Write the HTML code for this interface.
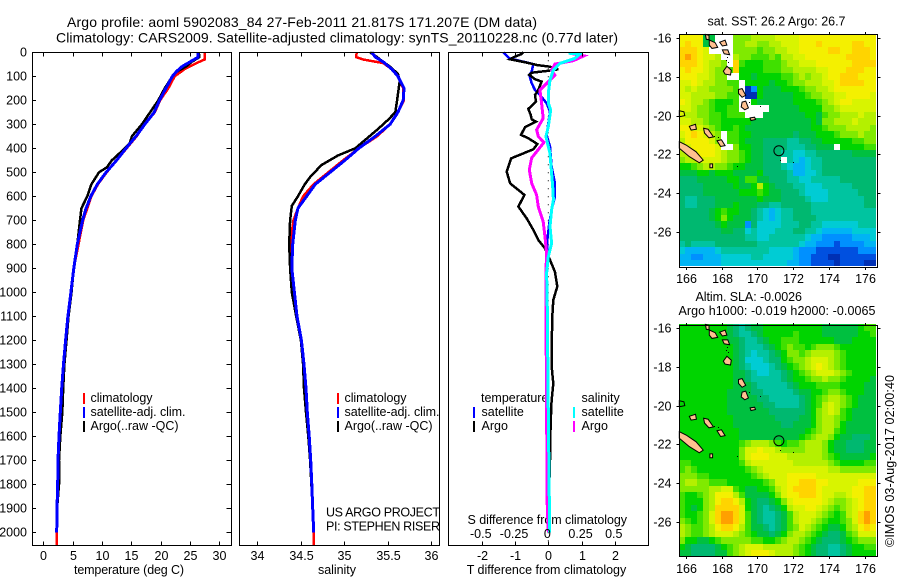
<!DOCTYPE html>
<html><head><meta charset="utf-8"><title>Argo profile</title>
<style>
html,body{margin:0;padding:0;background:#fff;width:900px;height:580px;overflow:hidden}
svg{display:block}
text{font-family:"Liberation Sans",sans-serif;font-size:12.5px;fill:#000}
</style></head>
<body>
<svg id="chart" width="900" height="580" viewBox="0 0 900 580">
<text x="67" y="27" textLength="470" style="font-size:14px">Argo profile: aoml 5902083_84 27-Feb-2011 21.817S 171.207E (DM data)</text>
<text x="56" y="42.5" textLength="562" style="font-size:14px">Climatology: CARS2009. Satellite-adjusted climatology: synTS_20110228.nc (0.77d later)</text>
<text x="74" y="574" textLength="110">temperature (deg C)</text>
<text x="318" y="574" textLength="38">salinity</text>
<text x="466.7" y="574" textLength="159.5">T difference from climatology</text>
<text x="467.5" y="524" textLength="159.5">S difference from climatology</text>
<text x="326" y="516.5" textLength="114">US ARGO PROJECT</text>
<text x="326" y="530.5" textLength="114">PI: STEPHEN RISER</text>
<text x="90.5" y="402" textLength="62">climatology</text>
<text x="90.5" y="416" textLength="95">satellite-adj. clim.</text>
<text x="90.5" y="430" textLength="88">Argo(..raw -QC)</text>
<text x="344.5" y="402" textLength="62">climatology</text>
<text x="344.5" y="416" textLength="95">satellite-adj. clim.</text>
<text x="344.5" y="430" textLength="88">Argo(..raw -QC)</text>
<text x="481" y="402">temperature</text>
<text x="481.5" y="416">satellite</text>
<text x="481.5" y="430">Argo</text>
<text x="581.5" y="402">salinity</text>
<text x="581.5" y="416">satellite</text>
<text x="581.5" y="430">Argo</text>
<text x="707.5" y="25.5" textLength="138">sat. SST: 26.2 Argo: 26.7</text>
<text x="695.5" y="301" textLength="106.5">Altim. SLA: -0.0026</text>
<text x="678.5" y="315" textLength="197">Argo h1000: -0.019 h2000: -0.0065</text>
<text transform="translate(894,547) rotate(-90)" textLength="172">©IMOS 03-Aug-2017 02:00:40</text>
</svg>
<script>
// ---- profile data (depth in m, temperature deg C, salinity PSU, differences) ----
const tempClimDepth=[0,30,45,70,100,150,200,250,300,350,400,450,500,550,600,650,700,750,800,900,1000,1100,1200,1300,1400,1500,1600,1700,1800,1900,2000,2055];
const tempClim=[27.5,27.5,26.1,24.1,22.4,21.3,19.9,19,17.3,15.9,14.2,12.5,10.8,9.3,8.2,7.5,6.8,6.4,6,5.2,4.7,4.2,3.8,3.45,3.13,2.9,2.67,2.5,2.45,2.33,2.28,2.28];
const tempSatDepth=[0,20,40,60,80,100,150,200,250,300,350,400,450,500,550,600,650,700,800,900,1000,1100,1200,1300,1400,1500,1600,1700,1800,1900,2000];
const tempSat=[26.4,26.4,25,23.6,22.7,22,20.9,19.8,18.9,17.3,15.8,14.1,12.5,10.7,9.2,8.1,7.3,6.7,5.8,5.2,4.7,4.2,3.8,3.45,3.13,2.9,2.67,2.5,2.45,2.33,2.28];
const tempArgoDepth=[0,20,40,60,80,100,150,200,250,300,350,380,400,450,480,500,550,600,650,700,800,900,1000,1100,1200,1300,1400,1500,1600,1700,1800,1900,1990];
const tempArgo=[26.5,26.6,25.3,24.3,22.8,22,20.7,19.6,18.2,16.8,15.1,14.7,13.9,11.7,10.8,9.5,8.2,7.5,6.5,6.25,5.8,5.2,4.8,4.3,3.95,3.6,3.4,3.24,2.9,2.67,2.67,2.35,2.3];
const salClimDepth=[0,20,30,45,70,100,150,200,250,300,350,400,450,500,550,600,650,700,750,800,900,1000,1100,1200,1300,1400,1500,1600,1700,1800,1900,2000,2055];
const salClim=[35.146,35.14,35.22,35.45,35.55,35.62,35.68,35.69,35.62,35.53,35.38,35.17,34.99,34.82,34.65,34.53,34.47,34.42,34.4,34.4,34.4,34.42,34.45,34.505,34.54,34.563,34.578,34.6,34.617,34.63,34.64,34.652,34.655];
const salSatDepth=[0,20,40,70,100,150,200,250,300,350,400,450,500,550,600,650,700,800,900,1000,1100,1200,1300,1400,1500,1600,1700,1800,1900,2000];
const salSat=[35.32,35.36,35.45,35.55,35.62,35.69,35.68,35.62,35.53,35.36,35.17,35.01,34.84,34.67,34.57,34.47,34.44,34.41,34.4,34.43,34.46,34.51,34.54,34.563,34.578,34.6,34.617,34.63,34.64,34.652];
const salArgoDepth=[0,20,40,60,90,120,200,250,280,320,360,400,430,470,520,550,600,640,700,800,900,1000,1100,1200,1300,1400,1500,1600,1700,1900];
const salArgo=[35.3,35.38,35.45,35.53,35.62,35.64,35.61,35.59,35.51,35.39,35.26,35.13,34.93,34.74,34.61,34.55,34.47,34.4,34.38,34.37,34.38,34.4,34.45,34.505,34.53,34.54,34.563,34.59,34.61,34.64];
const dTSatDepth=[0,25,39,49,81,94,129,157,178,212,247,296,344,393,476,546,601,657,712,782,837,921,1032,1327,1727,1852,2000];
const dTSat=[-1.35,-1.17,-0.75,-0.45,-0.5,-0.57,-0.5,-0.4,-0.25,-0.05,0.05,0,-0.05,0.05,0.1,0.2,0.2,0.1,0.03,-0.03,-0.03,-0.05,-0.05,-0.05,-0.05,-0.03,0];
const dTArgoDepth=[0,7,18,29,43,53,60,71,78,85,94,112,122,157,178,206,236,261,279,289,312,344,358,382,404,442,497,546,594,643,692,740,782,817,865,914,976,1032,1100,1250,1324,1380,1450,1550,1700,1750,1780,2000];
const dTArgo=[-0.75,-0.8,-1,-1.15,-0.65,-0.35,0.05,0.3,-0.05,-0.5,-0.57,-0.4,-0.2,-0.3,-0.4,-0.37,-0.6,-0.53,-0.5,-0.37,-0.7,-0.82,-0.6,-0.33,-0.45,-1.12,-1.25,-1.15,-0.72,-0.9,-0.65,-0.45,-0.3,-0.1,0.05,0.2,0.27,0.15,0.12,0.1,0.11,0.15,0.1,0.07,0.05,0.05,0.03,0];
const dSArgoDepth=[0,4,15,35,49,74,96,122,157,212,275,323,351,376,440,489,546,594,643,706,769,837,921,1032,1490,1880,2000];
const dSArgo=[0.163,0.163,0.268,0.188,0.05,0.025,0.05,0,-0.063,-0.05,-0.038,-0.088,-0.075,-0.033,-0.125,-0.143,-0.125,-0.088,-0.075,-0.038,-0.025,-0.013,-0.018,-0.018,-0.013,-0.008,0];
const dSSatDepth=[0,4,7,25,46,74,115,171,212,240,310,351,421,504,560,615,657,726,796,852,921,1032,1500,1900,2000];
const dSSat=[0.163,0.163,0.238,0.2,0.088,0.038,0.013,0,0,0.018,0,-0.018,0.013,0.025,0.033,0.038,0.025,0.013,0.025,0,-0.013,-0.008,0,0.008,0.01];
// ---- axis tick data ----
const depthTicks=[0,100,200,300,400,500,600,700,800,900,1000,1100,1200,1300,1400,1500,1600,1700,1800,1900,2000];
const tempTicks=[0,5,10,15,20,25,30];
const salTicks=[34,34.5,35,35.5,36];
const dTTicks=[-2,-1,0,1,2];
const dSTicks=[-0.5,-0.25,0,0.25,0.5];
const lonTicks=[166,168,170,172,174,176];
const latTicks=[-16,-18,-20,-22,-24,-26];
// ---- map colour levels (-1 = no data) ----
const mapPalette=["#0030b4","#0050e0","#0090ff","#00b4f4","#00ccd4","#00c4a0","#00b870","#00c040","#00d400","#40e000","#80ea00","#b4f000","#d8f400","#f4f000","#ffd400","#ffa000"];
const sstRows=[
[13,13,13,13,7,7,-1,-1,-1,10,10,10,11,11,11,11,12,12,12,12,13,13,13,13,13,13,13,13,13,13,13,13,13],
[13,14,13,13,7,7,-1,-1,-1,10,10,11,11,10,10,11,11,12,12,12,13,13,13,14,13,13,13,13,13,14,14,13,13],
[14,14,14,13,12,-1,-1,-1,-1,10,10,10,10,9,10,10,11,11,12,12,13,13,13,13,13,14,14,13,13,14,14,14,13],
[14,15,14,13,12,12,11,-1,-1,11,10,10,9,9,9,10,9,11,11,12,12,13,13,13,13,13,13,13,14,14,14,14,13],
[14,14,14,13,12,11,11,10,-1,14,9,8,8,8,9,9,9,10,11,11,12,12,12,13,13,13,13,13,13,14,14,14,14],
[13,14,13,13,12,11,10,10,9,14,8,8,8,8,9,9,9,10,10,11,11,11,11,12,12,13,13,13,14,14,14,13,13],
[13,13,13,12,12,11,10,10,-1,-1,8,8,7,8,8,8,8,9,9,10,11,10,11,11,12,13,13,14,14,14,13,13,13],
[12,12,13,12,11,11,10,10,9,9,-1,8,8,8,8,7,8,8,9,10,10,11,11,11,12,12,13,14,14,14,14,13,13],
[12,11,12,11,11,10,10,10,10,9,-1,0,2,8,7,7,7,8,8,8,9,10,10,11,11,12,13,13,13,13,13,13,13],
[12,12,11,11,11,11,10,10,9,9,-1,0,0,8,7,7,7,7,7,8,8,9,10,10,11,11,12,12,13,13,13,13,12],
[13,12,11,11,10,9,8,8,8,9,-1,-1,8,7,7,7,7,7,7,8,8,8,8,9,10,11,12,13,13,12,12,12,12],
[12,12,11,10,10,9,8,8,9,9,-1,-1,-1,-1,-1,7,7,7,7,7,8,8,8,8,10,10,11,12,12,12,12,12,12],
[12,11,11,10,10,9,9,8,9,9,9,-1,-1,-1,7,7,7,7,7,7,7,8,8,7,9,10,10,11,11,11,12,11,11],
[12,12,11,11,10,9,9,8,8,8,8,8,7,7,7,7,7,7,7,7,7,7,8,7,10,10,11,11,11,12,11,11,11],
[13,13,12,12,11,10,9,8,8,9,8,7,7,7,7,7,7,7,7,7,7,7,8,8,9,10,10,10,11,11,11,11,10],
[12,13,14,13,12,11,10,-1,9,9,8,8,7,7,7,7,7,7,7,6,7,7,7,8,8,8,9,10,10,10,11,10,10],
[11,13,13,13,13,12,10,-1,9,9,8,7,7,7,6,6,6,6,5,5,6,6,7,7,8,8,8,8,8,9,9,10,10],
[11,12,13,13,13,13,12,-1,-1,10,8,8,7,7,6,6,6,6,5,5,5,6,6,7,7,7,-1,8,8,8,8,9,9],
[11,11,12,13,13,13,12,11,10,10,9,8,7,7,6,6,6,5,5,4,4,5,5,6,6,6,6,6,6,7,7,7,7],
[10,11,11,12,12,12,12,11,10,10,9,8,7,7,6,6,6,-1,5,4,3,4,5,5,6,6,6,6,6,6,6,6,6],
[8,8,9,10,11,11,10,10,9,8,8,7,7,7,6,6,6,5,4,3,3,4,5,5,6,6,6,6,6,6,6,6,6],
[7,7,7,8,8,7,8,8,8,7,7,7,7,8,6,6,6,6,5,3,3,4,4,5,6,6,6,6,6,6,6,6,6],
[6,6,6,7,7,7,7,7,8,8,7,9,9,7,7,6,6,6,5,5,4,4,5,5,5,5,5,6,6,6,6,6,6],
[6,6,6,6,7,7,7,7,7,8,7,7,8,11,8,7,6,6,6,5,5,4,4,4,5,5,5,5,5,6,6,6,6],
[6,6,6,6,7,7,7,7,7,7,8,8,8,9,8,7,7,6,6,6,5,4,4,4,4,5,5,5,5,5,6,6,6],
[6,5,5,6,6,6,7,7,7,7,7,7,7,8,7,7,7,6,6,6,6,5,4,4,4,5,5,5,5,5,5,6,6],
[6,5,5,6,6,6,7,7,7,8,7,7,7,6,6,5,5,6,6,6,6,6,5,5,5,5,5,5,5,5,5,6,6],
[6,6,6,6,6,7,8,9,8,8,7,7,6,5,4,3,4,5,5,6,6,6,5,5,5,5,5,5,5,5,5,5,5],
[6,6,6,6,6,7,8,10,8,7,7,7,6,5,4,3,4,5,5,6,6,6,6,5,5,5,5,5,5,5,5,5,5],
[6,6,6,6,6,6,7,8,7,7,7,2,6,4,4,4,4,5,5,5,6,6,5,5,4,4,4,4,4,4,5,5,5],
[6,6,6,6,6,6,6,7,7,6,6,4,5,4,4,4,5,5,5,6,6,5,5,4,3,3,3,3,3,4,4,4,4],
[6,6,6,6,6,6,6,6,6,6,6,5,5,4,4,5,5,5,5,5,5,4,3,3,2,2,2,2,2,3,3,3,4],
[5,6,5,5,5,5,6,6,6,6,6,6,6,5,5,5,5,5,5,5,4,3,3,2,2,2,1,2,2,2,2,3,3],
[4,3,3,3,3,3,4,5,5,5,5,5,5,5,5,4,4,4,4,3,2,2,2,1,1,1,1,1,1,1,2,2,2],
[3,3,2,2,3,3,3,4,4,4,4,4,5,5,4,4,4,4,4,3,2,2,1,1,1,0,0,1,1,1,1,1,1],
[3,3,3,3,3,3,3,4,4,4,4,4,4,4,4,4,4,4,3,3,2,2,1,1,1,1,0,1,1,1,1,0,0]
];
const slaRows=[
[8,8,8,8,8,8,8,8,7,6,5,6,7,7,8,8,8,8,8,8,8,8,8,8,7,7,7,7,7,7,8,9,9],
[8,8,8,8,8,8,8,8,7,6,5,5,6,7,8,8,8,8,8,9,8,8,8,8,7,7,7,7,7,7,8,8,9],
[8,8,8,8,8,8,8,8,7,7,6,5,5,6,7,8,8,9,9,9,8,8,8,8,8,8,7,7,7,8,8,8,8],
[8,8,8,8,8,8,8,8,8,7,6,5,5,5,6,7,8,9,10,9,9,8,9,10,10,10,9,8,8,8,8,8,8],
[8,8,8,8,8,8,8,8,8,7,6,5,4,5,5,6,7,8,10,10,9,10,11,11,11,11,10,9,8,8,8,8,8],
[8,8,8,8,8,8,8,8,8,7,6,4,4,4,5,6,6,8,9,10,10,11,12,12,12,11,10,9,8,8,8,8,8],
[8,8,8,8,8,8,8,8,8,7,6,5,4,4,4,5,6,7,8,9,10,11,12,13,12,11,10,9,8,8,8,8,8],
[8,8,8,8,8,8,8,8,8,7,7,6,5,4,4,5,5,6,7,8,9,10,11,12,12,12,11,10,9,8,8,8,8],
[8,8,8,8,8,8,8,8,8,7,7,6,5,5,5,5,5,6,7,8,8,9,10,10,11,10,10,9,8,8,8,8,7],
[8,8,8,8,8,8,8,8,8,7,7,7,6,5,5,5,5,5,6,7,8,8,8,9,9,9,9,8,8,8,8,7,7],
[8,8,8,8,8,8,8,8,7,7,7,7,6,6,5,5,5,5,5,6,7,7,8,8,9,10,10,9,8,8,8,7,7],
[8,8,8,8,8,8,8,8,7,7,7,7,7,6,6,5,5,5,5,5,6,7,8,9,10,11,11,10,9,8,7,7,7],
[8,8,8,8,8,8,8,8,7,7,7,7,7,7,6,6,5,5,5,5,6,7,8,9,11,12,11,10,9,8,7,7,7],
[8,8,8,8,8,8,8,8,7,7,7,7,7,7,7,6,6,6,6,6,6,7,8,10,11,12,11,9,8,7,7,7,7],
[8,8,8,8,8,8,8,8,8,7,7,7,7,7,7,7,6,6,6,6,7,7,8,10,11,11,10,9,8,7,7,7,7],
[8,8,8,8,8,8,8,8,8,7,7,7,7,7,7,7,7,6,6,7,7,7,8,10,11,11,10,8,7,7,7,7,7],
[8,8,8,8,8,8,8,8,8,8,7,7,7,7,7,7,7,7,7,7,7,8,9,10,11,11,9,8,7,7,7,7,7],
[8,8,8,8,8,8,8,8,8,8,7,7,7,7,7,7,7,7,7,7,8,9,10,11,11,10,8,7,7,6,6,6,7],
[8,8,8,8,8,8,8,8,8,8,9,10,11,11,11,10,9,8,9,9,10,11,11,11,10,8,7,7,6,6,6,7,7],
[8,8,8,8,8,8,8,8,8,8,10,12,12,13,12,12,11,10,10,10,10,11,11,11,10,8,7,7,6,6,6,7,7],
[8,8,8,8,8,8,8,8,8,8,10,12,13,13,13,12,12,12,11,11,11,11,11,11,10,9,8,7,7,7,7,7,8],
[9,9,8,8,8,8,8,8,8,8,9,11,12,12,12,12,12,12,12,11,11,11,11,11,11,10,9,8,8,8,8,9,9],
[9,10,9,8,8,8,8,8,8,8,8,9,10,11,12,12,12,12,12,12,12,12,12,12,12,11,11,10,10,10,10,10,10],
[10,10,10,9,9,8,8,8,8,8,8,8,9,10,11,12,12,12,13,13,13,13,13,12,12,12,12,12,12,12,12,12,12],
[10,11,11,10,10,9,9,9,8,8,8,8,8,8,9,10,12,12,13,13,14,14,14,13,13,12,12,12,12,12,13,13,13],
[10,10,10,10,10,11,11,12,12,9,8,7,7,8,8,9,11,12,13,14,14,14,14,13,12,12,12,12,12,13,13,14,14],
[9,8,8,9,10,11,13,13,13,11,9,7,7,7,7,8,10,12,13,13,14,14,14,13,12,12,11,11,12,13,13,14,14],
[9,8,8,8,10,11,13,14,14,13,11,8,7,6,6,7,8,10,12,13,13,13,13,13,12,11,10,10,11,12,13,14,14],
[9,8,7,8,10,11,14,14,14,14,12,8,7,6,5,6,7,8,11,12,12,13,13,12,11,10,9,10,11,12,13,14,14],
[9,8,8,9,10,12,14,15,15,14,12,9,7,6,5,5,6,7,9,11,12,12,12,11,10,9,8,9,11,12,14,15,14],
[10,9,8,9,10,12,14,15,15,14,12,9,7,6,5,5,6,7,9,11,12,12,11,10,9,8,8,9,10,12,14,15,14],
[11,10,9,9,10,11,13,14,14,13,11,9,7,7,6,5,6,7,9,10,12,11,10,9,8,7,7,8,10,11,13,14,13],
[11,10,9,9,10,11,12,12,12,11,10,9,8,7,7,6,7,8,10,11,11,10,9,8,7,6,6,7,9,10,12,12,12],
[10,8,8,7,7,8,9,10,10,10,10,10,9,9,8,8,9,10,11,11,10,9,8,7,6,6,6,7,8,9,10,10,10],
[8,7,6,6,6,6,7,8,9,10,11,12,12,12,11,11,11,11,11,10,9,8,7,6,6,5,5,6,7,8,8,9,9],
[7,7,6,6,6,6,7,7,9,10,11,12,13,13,13,12,11,11,11,10,9,8,7,6,6,5,5,6,7,8,8,8,8]
];
// ---- coastline data (lon, lat) ----
const islands=[
[[165.64,-21.35],[166.02,-21.52],[166.58,-21.87],[166.98,-22.3],[166.76,-22.44],[166.2,-22.12],[165.64,-21.69]],
[[167.32,-16.09],[167.65,-16.23],[167.79,-16.47],[167.47,-16.52],[167.32,-16.35]],
[[167.1,-15.8],[167.3,-15.85],[167.3,-16.08],[167.15,-16.05]],
[[167.9,-16.2],[168.2,-16.1],[168.3,-16.35],[168.05,-16.4]],
[[168.05,-16.6],[168.35,-16.6],[168.45,-16.85],[168.15,-16.8]],
[[168.1,-17.7],[168.3,-17.45],[168.55,-17.65],[168.5,-17.9],[168.2,-17.85]],
[[168.95,-18.65],[169.15,-18.6],[169.35,-18.95],[169.15,-19.05],[168.95,-18.85]],
[[169.15,-19.3],[169.35,-19.25],[169.5,-19.6],[169.3,-19.7],[169.1,-19.55]],
[[169.6,-20.12],[169.85,-20.08],[169.9,-20.2],[169.65,-20.25]],
[[166.2,-20.55],[166.55,-20.45],[166.6,-20.7],[166.3,-20.75]],
[[167,-20.65],[167.25,-20.7],[167.55,-21.1],[167.3,-21.15],[167.05,-20.9]],
[[167.75,-21.3],[168,-21.25],[168.2,-21.55],[167.95,-21.6]],
[[167.35,-22.5],[167.5,-22.5],[167.5,-22.7],[167.35,-22.7]]
];
const reefOutline=[[165.64,-19.75],[165.9,-19.8],[165.95,-20],[165.7,-20.05],[165.64,-20]];
const specks=[[168.3,-16.95],[168.25,-17.1],[168.35,-17.25],[169.52,-19.3],[170.15,-19.5],[171.28,-22.3],[168.87,-22.6],[172,-22.4],[167.6,-21.05],[167.8,-21.1]];
const floatPosition=[171.207,-21.817];

// ---- drawing ----
const svg=document.getElementById('chart');
const NS='http://www.w3.org/2000/svg';
function make(tag,attrs){const el=document.createElementNS(NS,tag);for(const k in attrs)el.setAttribute(k,attrs[k]);svg.appendChild(el);return el;}
const yDepth=d=>52.3+d*0.24;
const xTemp=v=>43.3+v*5.867;
const xSal=v=>257+(v-34)*87;
const xDT=v=>548.3+v*33.25;
const xDS=v=>548.3+v*133;
const xLon=v=>685.7+(v-166)*17.9;
const yLat1=v=>38.3+(-16-v)*19.33;
const yLat2=v=>328.3+(-16-v)*19.33;
const pts=(dep,val,fx)=>val.map((v,i)=>fx(v).toFixed(1)+','+yDepth(dep[i]).toFixed(1)).join(' ');
function frame(x0,y0,x1,y1,name){
  const r=make('rect',{x:x0,y:y0,width:x1-x0,height:y1-y0,fill:'none',stroke:'#000','stroke-width':1,'shape-rendering':'crispEdges'});
  
  
}
function tick(x1,y1,x2,y2,name){
  const l=make('line',{x1,y1,x2,y2,stroke:'#000','stroke-width':1,'shape-rendering':'crispEdges'});
  
  
}
function label(x,y,str,anchor,name){
  const t=make('text',{x,y,'text-anchor':anchor});
  t.textContent=str;
  
  
}
function line(dep,val,fx,color,w,name){
  const p=make('polyline',{points:pts(dep,val,fx),fill:'none',stroke:color,'stroke-width':w,'shape-rendering':'crispEdges'});
  
  
}
const P=[[32.5,231.5],[239.5,439.5],[448.5,648.5]];
const TOP=52.5,BOT=545.5;

line(tempClimDepth,tempClim,xTemp,'#f00',2.5,'temperature-climatology-line');
line(tempArgoDepth,tempArgo,xTemp,'#000',2.5,'temperature-argo-line');
line(tempSatDepth,tempSat,xTemp,'#00f',3,'temperature-satellite-line');
line(salClimDepth,salClim,xSal,'#f00',2.5,'salinity-climatology-line');
line(salArgoDepth,salArgo,xSal,'#000',2.5,'salinity-argo-line');
line(salSatDepth,salSat,xSal,'#00f',3,'salinity-satellite-line');

const zero=make('line',{x1:xDT(0),y1:yDepth(0),x2:xDT(0),y2:BOT,stroke:'#000','stroke-width':1,'stroke-dasharray':'1 7'});


line(dTSatDepth,dTSat,xDT,'#00f',2.5,'t-diff-satellite-line');
line(dTArgoDepth,dTArgo,xDT,'#000',2.5,'t-diff-argo-line');
line(dSArgoDepth,dSArgo,xDS,'#f0f',3,'s-diff-argo-line');
line(dSSatDepth,dSSat,xDS,'#0ff',3,'s-diff-satellite-line');

frame(P[0][0],TOP,P[0][1],BOT,'temperature-panel-frame');
frame(P[1][0],TOP,P[1][1],BOT,'salinity-panel-frame');
frame(P[2][0],TOP,P[2][1],BOT,'difference-panel-frame');

depthTicks.forEach(d=>{
  const y=Math.round(yDepth(d))+0.5;
  tick(P[0][0],y,P[0][0]+3.5,y,'depth-tick-left');
  tick(P[0][1]-5,y,P[0][1],y,'depth-tick-right');
  label(27,y+4,String(d),'end','depth-tick-label');
});
tempTicks.forEach(v=>{
  const x=Math.round(xTemp(v))+0.5;
  tick(x,TOP,x,TOP+4,'temperature-tick-top');
  tick(x,BOT-4,x,BOT,'temperature-tick-bottom');
  label(x,560,String(v),'middle','temperature-tick-label');
});
salTicks.forEach(v=>{
  const x=Math.round(xSal(v))+0.5;
  tick(x,TOP,x,TOP+4,'salinity-tick-top');
  tick(x,BOT-4,x,BOT,'salinity-tick-bottom');
  label(x,560,String(v),'middle','salinity-tick-label');
});
dTTicks.forEach(v=>{
  const x=Math.round(xDT(v))+0.5;
  tick(x,TOP,x,TOP+4,'t-diff-tick-top');
  tick(x,BOT-4,x,BOT,'t-diff-tick-bottom');
  label(x,560,String(v),'middle','t-diff-tick-label');
});
dSTicks.forEach(v=>{
  label(xDS(v)-1,538,String(v),'middle','s-diff-tick-label');
});

function legendBar(x,y,color,name){
  const l=make('rect',{x:x-1,y,width:2,height:11,fill:color});
  
  
}
legendBar(84,393,'#f00','legend-swatch-climatology');
legendBar(84,407,'#00f','legend-swatch-satellite');
legendBar(84,421,'#000','legend-swatch-argo');
legendBar(338,393,'#f00','legend-swatch-climatology-salinity');
legendBar(338,407,'#00f','legend-swatch-satellite-salinity');
legendBar(338,421,'#000','legend-swatch-argo-salinity');
legendBar(474,407,'#00f','legend-swatch-t-satellite');
legendBar(474,421,'#000','legend-swatch-t-argo');
legendBar(574,407,'#0ff','legend-swatch-s-satellite');
legendBar(574,421,'#f0f','legend-swatch-s-argo');

function drawMap(rows,yLat,top,bottom,labelY,prefix,cellName){
  const lon0=165.64,lat0=-15.8,step=1/3;
  rows.forEach((row,r)=>row.forEach((v,c)=>{
    const x0=Math.round(xLon(lon0+c*step)),x1=Math.round(xLon(lon0+(c+1)*step));
    const y0=Math.round(yLat(lat0-r*step)),y1=Math.round(yLat(lat0-(r+1)*step));
    const cell=make('rect',{x:x0,y:y0,width:x1-x0,height:y1-y0,fill:v<0?'#fff':mapPalette[v],'shape-rendering':'crispEdges'});
    
    
  }));
  islands.forEach(poly=>{
    const isl=make('polygon',{points:poly.map(p=>xLon(p[0]).toFixed(1)+','+yLat(p[1]).toFixed(1)).join(' '),fill:'#ffc090',stroke:'#000','stroke-width':1});
    
    
  });
  const reef=make('polygon',{points:reefOutline.map(p=>xLon(p[0]).toFixed(1)+','+yLat(p[1]).toFixed(1)).join(' '),fill:'none',stroke:'#000','stroke-width':1});
  
  
  specks.forEach(p=>{
    const s=make('rect',{x:Math.round(xLon(p[0])),y:Math.round(yLat(p[1])),width:1,height:1,fill:'#000'});
    
    
  });
  const ring=make('circle',{cx:xLon(floatPosition[0]),cy:yLat(floatPosition[1]),r:5,fill:'none',stroke:'#000','stroke-width':1});
  
  
  frame(679.5,top,877.5,bottom,prefix+'-map-frame');
  lonTicks.forEach(v=>{
    const x=Math.round(xLon(v))+0.5;
    tick(x,top-2.5,x,top,prefix+'-lon-tick');
    tick(x,bottom,x,bottom+2.5,prefix+'-lon-tick');
    label(x,labelY,String(v),'middle',prefix+'-lon-label');
  });
  latTicks.forEach(v=>{
    const y=Math.round(yLat(v))+0.5;
    tick(676.5,y,679.5,y,prefix+'-lat-tick');
    tick(877.5,y,880.5,y,prefix+'-lat-tick');
    label(671.5,y+4,String(v),'end',prefix+'-lat-label');
  });
}
drawMap(sstRows,yLat1,34.5,267.5,283,'sst','sst-cell');
drawMap(slaRows,yLat2,325.5,556.5,573,'sla','sla-cell');
</script>
</body></html>
